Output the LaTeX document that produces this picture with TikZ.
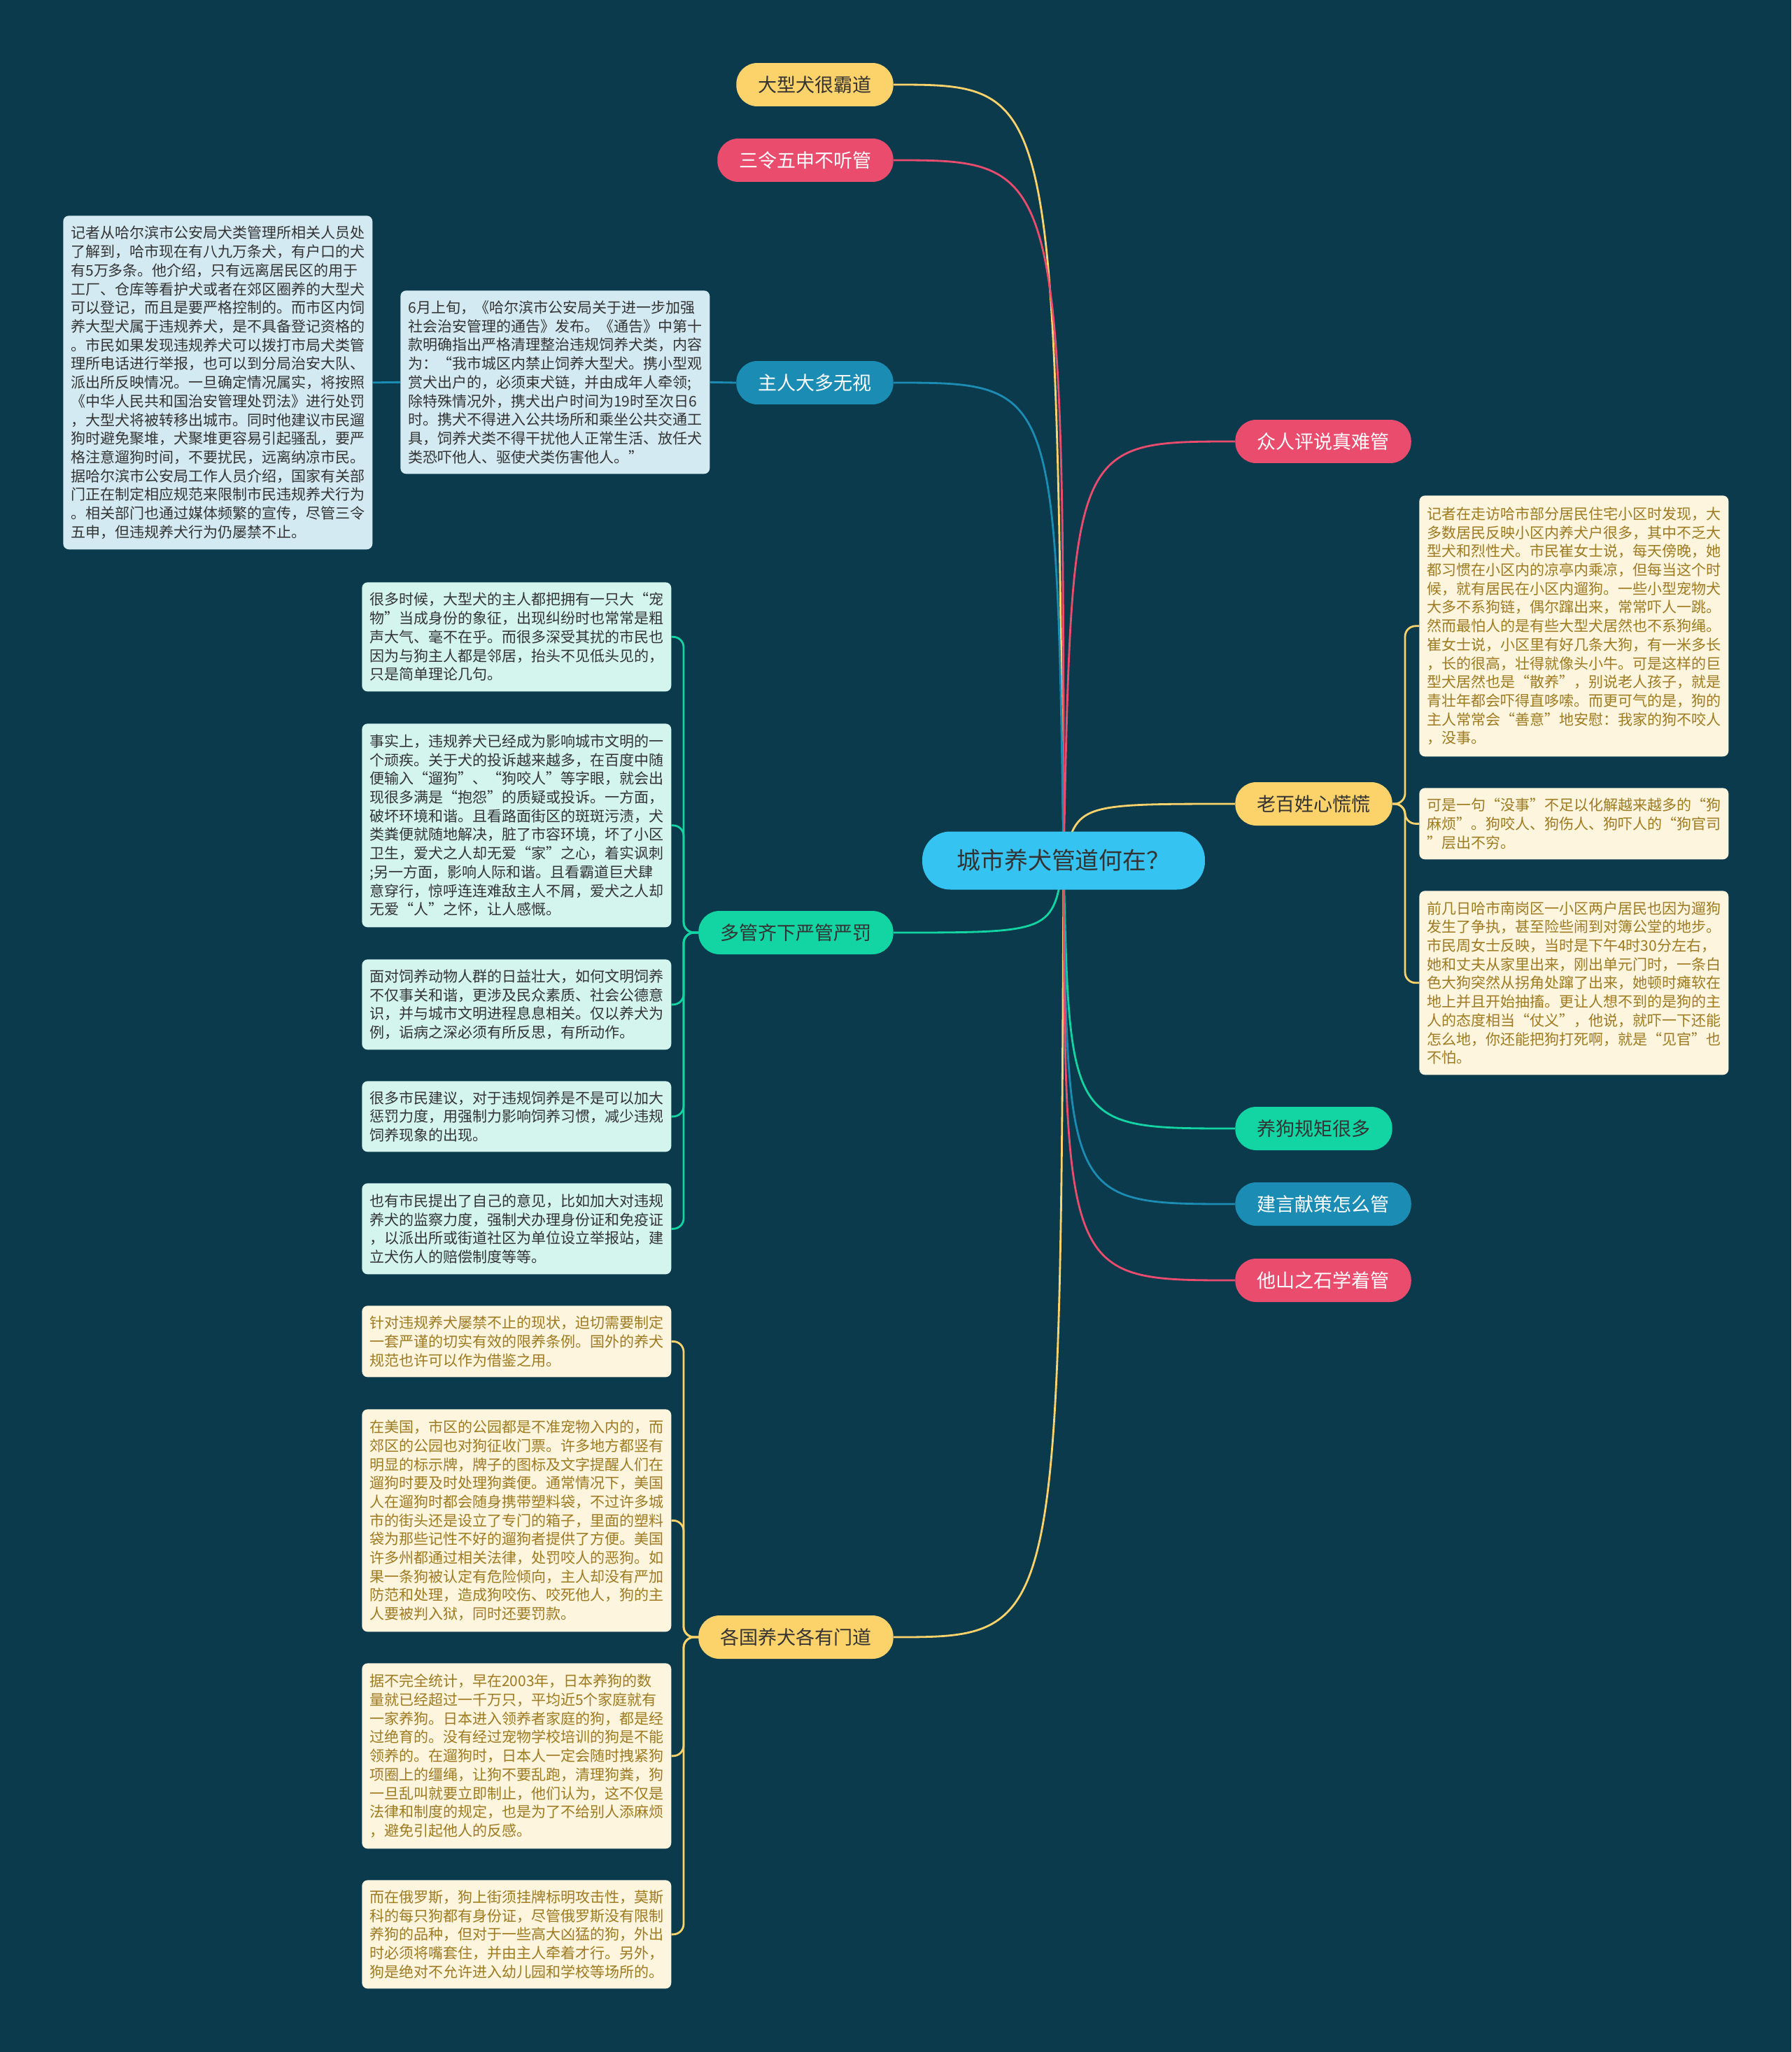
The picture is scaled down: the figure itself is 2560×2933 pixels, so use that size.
\documentclass[tikz,border=0pt]{standalone}
\usepackage{fontspec}
\setmainfont{Noto Sans CJK SC}
\usetikzlibrary{backgrounds}
\definecolor{bgteal}{HTML}{0A3A4C}
\definecolor{cyel}{HTML}{FCD26A}
\definecolor{cred}{HTML}{EA4C6E}
\definecolor{cblue}{HTML}{1B8CB3}
\definecolor{cgreen}{HTML}{12D5A3}
\definecolor{croot}{HTML}{35C4F1}
\definecolor{leafblue}{HTML}{D4EAF2}
\definecolor{leafmint}{HTML}{D3F5EE}
\definecolor{leafcream}{HTML}{FEF5DE}
\definecolor{goldtext}{HTML}{9E7A20}
\definecolor{inktext}{HTML}{333333}
\tikzset{
  root/.style={fill=croot, text=inktext, rounded corners=0.8cm, minimum width=8.08cm,
    minimum height=1.66cm, font=\fontsize{19.3pt}{23pt}\selectfont},
  topic/.style={rounded corners=0.6cm, minimum height=1.24cm, inner xsep=0.62cm,
    inner ysep=0pt, font=\fontsize{15.4pt}{18pt}\selectfont},
  topicL/.style={topic, anchor=east},
  topicR/.style={topic, anchor=west},
  yeltopic/.style={fill=cyel, text=inktext},
  redtopic/.style={fill=cred, text=white},
  bluetopic/.style={fill=cblue, text=white},
  greentopic/.style={fill=cgreen, text=inktext},
  leaf/.style={rounded corners=0.16cm, minimum width=8.84cm, inner xsep=0.2cm,
    inner ysep=0.2cm, align=left, anchor=north west,
    font=\fontsize{11.95pt}{15.2pt}\selectfont},
  leafb/.style={leaf, fill=leafblue, text=inktext},
  leafm/.style={leaf, fill=leafmint, text=inktext},
  leafc/.style={leaf, fill=leafcream, text=goldtext},
  link/.style={line width=1.6pt},
  sublink/.style={line width=1.6pt, rounded corners=0.3cm}
}
\begin{document}
\begin{tikzpicture}[x=0.02cm, y=-0.02cm]
    \useasboundingbox (0,0) rectangle (2560,2933);
    % centre and main topics
    \node[root] (root) at (1520,1230) {城市养犬管道何在？};
    \node[topicL, yeltopic] (bawang) at (1277,121) {大型犬很霸道};
    \node[topicL, redtopic] (sanling) at (1277,229) {三令五申不听管};
    \node[topicL, bluetopic] (zhuren) at (1277,547) {主人大多无视};
    \node[topicL, greentopic] (duoguan) at (1277,1333) {多管齐下严管严罚};
    \node[topicL, yeltopic] (geguo) at (1277,2340) {各国养犬各有门道};
    \node[topicR, redtopic] (zhongren) at (1765,631) {众人评说真难管};
    \node[topicR, yeltopic] (laobai) at (1765,1149) {老百姓心慌慌};
    \node[topicR, greentopic] (guiju) at (1765,1613) {养狗规矩很多};
    \node[topicR, bluetopic] (jianyan) at (1765,1721) {建言献策怎么管};
    \node[topicR, redtopic] (tashan) at (1765,1830) {他山之石学着管};
    % details
    \node[leafb, minimum height=5.24cm] (zhuren1) at (572,415) {6月上旬，《哈尔滨市公安局关于进一步加强\\
社会治安管理的通告》发布。《通告》中第十\\
款明确指出严格清理整治违规饲养犬类，内容\\
为：“我市城区内禁止饲养大型犬。携小型观\\
赏犬出户的，必须束犬链，并由成年人牵领;\\
除特殊情况外，携犬出户时间为19时至次日6\\
时。携犬不得进入公共场所和乘坐公共交通工\\
具，饲养犬类不得干扰他人正常生活、放任犬\\
类恐吓他人、驱使犬类伤害他人。”};
    \node[leafb, minimum height=9.54cm] (zhuren2) at (90,308) {记者从哈尔滨市公安局犬类管理所相关人员处\\
了解到，哈市现在有八九万条犬，有户口的犬\\
有5万多条。他介绍，只有远离居民区的用于\\
工厂、仓库等看护犬或者在郊区圈养的大型犬\\
可以登记，而且是要严格控制的。而市区内饲\\
养大型犬属于违规养犬，是不具备登记资格的\\
。市民如果发现违规养犬可以拨打市局犬类管\\
理所电话进行举报，也可以到分局治安大队、\\
派出所反映情况。一旦确定情况属实，将按照\\
《中华人民共和国治安管理处罚法》进行处罚\\
，大型犬将被转移出城市。同时他建议市民遛\\
狗时避免聚堆，犬聚堆更容易引起骚乱，要严\\
格注意遛狗时间，不要扰民，远离纳凉市民。\\
据哈尔滨市公安局工作人员介绍，国家有关部\\
门正在制定相应规范来限制市民违规养犬行为\\
。相关部门也通过媒体频繁的宣传，尽管三令\\
五申，但违规养犬行为仍屡禁不止。};
    \node[leafm, minimum height=3.12cm] (duoguan1) at (517,832) {很多时候，大型犬的主人都把拥有一只大“宠\\
物”当成身份的象征，出现纠纷时也常常是粗\\
声大气、毫不在乎。而很多深受其扰的市民也\\
因为与狗主人都是邻居，抬头不见低头见的，\\
只是简单理论几句。};
    \node[leafm, minimum height=5.82cm] (duoguan2) at (517,1034) {事实上，违规养犬已经成为影响城市文明的一\\
个顽疾。关于犬的投诉越来越多，在百度中随\\
便输入“遛狗”、“狗咬人”等字眼，就会出\\
现很多满是“抱怨”的质疑或投诉。一方面，\\
破坏环境和谐。且看路面街区的斑斑污渍，犬\\
类粪便就随地解决，脏了市容环境，坏了小区\\
卫生，爱犬之人却无爱“家”之心，着实讽刺\\
;另一方面，影响人际和谐。且看霸道巨犬肆\\
意穿行，惊呼连连难敌主人不屑，爱犬之人却\\
无爱“人”之怀，让人感慨。};
    \node[leafm, minimum height=2.58cm] (duoguan3) at (517,1371) {面对饲养动物人群的日益壮大，如何文明饲养\\
不仅事关和谐，更涉及民众素质、社会公德意\\
识，并与城市文明进程息息相关。仅以养犬为\\
例，诟病之深必须有所反思，有所动作。};
    \node[leafm, minimum height=2.02cm] (duoguan4) at (517,1545) {很多市民建议，对于违规饲养是不是可以加大\\
惩罚力度，用强制力影响饲养习惯，减少违规\\
饲养现象的出现。};
    \node[leafm, minimum height=2.6cm] (duoguan5) at (517,1691) {也有市民提出了自己的意见，比如加大对违规\\
养犬的监察力度，强制犬办理身份证和免疫证\\
，以派出所或街道社区为单位设立举报站，建\\
立犬伤人的赔偿制度等等。};
    \node[leafc, minimum height=2.04cm] (geguo1) at (517,1866) {针对违规养犬屡禁不止的现状，迫切需要制定\\
一套严谨的切实有效的限养条例。国外的养犬\\
规范也许可以作为借鉴之用。};
    \node[leafc, minimum height=6.36cm] (geguo2) at (517,2014) {在美国，市区的公园都是不准宠物入内的，而\\
郊区的公园也对狗征收门票。许多地方都竖有\\
明显的标示牌，牌子的图标及文字提醒人们在\\
遛狗时要及时处理狗粪便。通常情况下，美国\\
人在遛狗时都会随身携带塑料袋，不过许多城\\
市的街头还是设立了专门的箱子，里面的塑料\\
袋为那些记性不好的遛狗者提供了方便。美国\\
许多州都通过相关法律，处罚咬人的恶狗。如\\
果一条狗被认定有危险倾向，主人却没有严加\\
防范和处理，造成狗咬伤、咬死他人，狗的主\\
人要被判入狱，同时还要罚款。};
    \node[leafc, minimum height=5.3cm] (geguo3) at (517,2377) {据不完全统计，早在2003年，日本养狗的数\\
量就已经超过一千万只，平均近5个家庭就有\\
一家养狗。日本进入领养者家庭的狗，都是经\\
过绝育的。没有经过宠物学校培训的狗是不能\\
领养的。在遛狗时，日本人一定会随时拽紧狗\\
项圈上的缰绳，让狗不要乱跑，清理狗粪，狗\\
一旦乱叫就要立即制止，他们认为，这不仅是\\
法律和制度的规定，也是为了不给别人添麻烦\\
，避免引起他人的反感。};
    \node[leafc, minimum height=3.1cm] (geguo4) at (517,2687) {而在俄罗斯，狗上街须挂牌标明攻击性，莫斯\\
科的每只狗都有身份证，尽管俄罗斯没有限制\\
养狗的品种，但对于一些高大凶猛的狗，外出\\
时必须将嘴套住，并由主人牵着才行。另外，\\
狗是绝对不允许进入幼儿园和学校等场所的。};
    \node[leafc, minimum height=7.46cm] (laobai1) at (2028,708) {记者在走访哈市部分居民住宅小区时发现，大\\
多数居民反映小区内养犬户很多，其中不乏大\\
型犬和烈性犬。市民崔女士说，每天傍晚，她\\
都习惯在小区内的凉亭内乘凉，但每当这个时\\
候，就有居民在小区内遛狗。一些小型宠物犬\\
大多不系狗链，偶尔蹿出来，常常吓人一跳。\\
然而最怕人的是有些大型犬居然也不系狗绳。\\
崔女士说，小区里有好几条大狗，有一米多长\\
，长的很高，壮得就像头小牛。可是这样的巨\\
型犬居然也是“散养”，别说老人孩子，就是\\
青壮年都会吓得直哆嗦。而更可气的是，狗的\\
主人常常会“善意”地安慰：我家的狗不咬人\\
，没事。};
    \node[leafc, minimum height=2.04cm] (laobai2) at (2028,1126) {可是一句“没事”不足以化解越来越多的“狗\\
麻烦”。狗咬人、狗伤人、狗吓人的“狗官司\\
”层出不穷。};
    \node[leafc, minimum height=5.26cm] (laobai3) at (2028,1273) {前几日哈市南岗区一小区两户居民也因为遛狗\\
发生了争执，甚至险些闹到对簿公堂的地步。\\
市民周女士反映，当时是下午4时30分左右，\\
她和丈夫从家里出来，刚出单元门时，一条白\\
色大狗突然从拐角处蹿了出来，她顿时瘫软在\\
地上并且开始抽搐。更让人想不到的是狗的主\\
人的态度相当“仗义”，他说，就吓一下还能\\
怎么地，你还能把狗打死啊，就是“见官”也\\
不怕。};
    % connectors
    \begin{pgfonlayer}{background}
    \fill[bgteal] (0,0) rectangle (2560,2933);
    \draw[link, cyel] (root.center) .. controls (1508,121) and (1508,121) .. (bawang.east);
    \draw[link, cred] (root.center) .. controls (1520,229) and (1520,229) .. (sanling.east);
    \draw[link, cblue] (root.center) .. controls (1510,547) and (1510,547) .. (zhuren.east);
    \draw[link, cgreen] (root.center) .. controls (1505,1333) and (1505,1333) .. (duoguan.east);
    \draw[link, cyel] (root.center) .. controls (1515,2340) and (1515,2340) .. (geguo.east);
    \draw[link, cred] (root.center) .. controls (1532,631) and (1532,631) .. (zhongren.west);
    \draw[link, cyel] (root.center) .. controls (1540,1149) and (1540,1149) .. (laobai.west);
    \draw[link, cgreen] (root.center) .. controls (1528,1613) and (1528,1613) .. (guiju.west);
    \draw[link, cblue] (root.center) .. controls (1525,1721) and (1525,1721) .. (jianyan.west);
    \draw[link, cred] (root.center) .. controls (1522,1830) and (1522,1830) .. (tashan.west);
    \draw[link, cblue] (zhuren.west) -- (zhuren1.east);
    \draw[link, cblue] (zhuren1.west) -- (zhuren2.east);
    \foreach \k in {1,...,5}
      \draw[sublink, cgreen] (duoguan.west) -- (977,1333) |- (duoguan\k.east);
    \foreach \k in {1,...,4}
      \draw[sublink, cyel] (geguo.west) -- (977,2340) |- (geguo\k.east);
    \foreach \k in {1,...,3}
      \draw[sublink, cyel] (laobai.east) -- (2008,1149) |- (laobai\k.west);
    \end{pgfonlayer}
\end{tikzpicture}
\end{document}
